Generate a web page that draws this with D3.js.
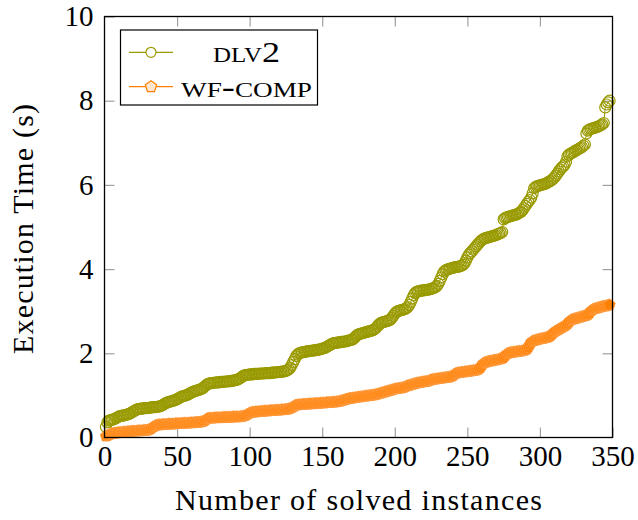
<!DOCTYPE html>
<html><head><meta charset="utf-8">
<script src="https://cdn.jsdelivr.net/npm/d3@7"></script>
<style>body{margin:0;background:#fff}svg{display:block}
svg text{font-family:"Liberation Serif","DejaVu Serif","Times New Roman",serif;}</style>
</head><body>
<svg id="c" width="638" height="520"></svg>
<script>
const xTicks=[0,50,100,150,200,250,300,350];
const yTicks=[0,2,4,6,8,10];
const seriesNames=["dlv2","wf-comp"];
const xTitle="Number of solved instances";
const yTitle="Execution Time (s)";
const dlv2=[
0.25,0.36,0.40,0.41,0.42,0.43,0.44,0.46,0.48,0.50,
0.51,0.52,0.52,0.53,0.54,0.55,0.56,0.58,0.60,0.62,
0.64,0.66,0.67,0.68,0.68,0.69,0.69,0.70,0.70,0.70,
0.71,0.71,0.72,0.72,0.72,0.73,0.73,0.74,0.75,0.77,
0.79,0.81,0.83,0.84,0.85,0.86,0.87,0.88,0.89,0.91,
0.93,0.95,0.97,0.98,0.99,1.00,1.01,1.03,1.05,1.07,
1.08,1.10,1.11,1.12,1.13,1.14,1.16,1.18,1.21,1.24,
1.27,1.28,1.29,1.29,1.30,1.30,1.31,1.31,1.31,1.32,
1.32,1.32,1.33,1.33,1.33,1.34,1.34,1.35,1.35,1.36,
1.37,1.38,1.40,1.42,1.45,1.47,1.48,1.49,1.49,1.50,
1.50,1.50,1.51,1.51,1.51,1.51,1.52,1.52,1.52,1.52,
1.53,1.53,1.53,1.53,1.54,1.54,1.54,1.55,1.55,1.55,
1.56,1.56,1.57,1.57,1.58,1.60,1.62,1.66,1.72,1.79,
1.86,1.93,1.97,2.00,2.01,2.02,2.03,2.03,2.04,2.05,
2.05,2.06,2.06,2.07,2.07,2.08,2.08,2.09,2.10,2.11,
2.12,2.13,2.15,2.17,2.19,2.21,2.23,2.24,2.25,2.25,
2.26,2.26,2.27,2.27,2.28,2.28,2.29,2.30,2.31,2.32,
2.33,2.36,2.40,2.43,2.45,2.46,2.47,2.48,2.49,2.50,
2.51,2.52,2.53,2.54,2.55,2.57,2.60,2.64,2.68,2.71,
2.73,2.74,2.75,2.76,2.77,2.78,2.80,2.84,2.89,2.94,
2.98,3.00,3.01,3.02,3.03,3.04,3.05,3.07,3.10,3.15,
3.22,3.30,3.38,3.43,3.46,3.47,3.48,3.49,3.49,3.50,
3.50,3.51,3.51,3.52,3.53,3.54,3.55,3.57,3.60,3.65,
3.72,3.80,3.88,3.94,3.97,3.99,4.00,4.01,4.02,4.03,
4.04,4.05,4.05,4.06,4.07,4.08,4.10,4.14,4.20,4.28,
4.34,4.38,4.42,4.46,4.50,4.54,4.58,4.62,4.66,4.69,
4.71,4.73,4.74,4.75,4.76,4.77,4.78,4.79,4.80,4.81,
4.83,4.84,4.86,4.88,5.18,5.21,5.23,5.24,5.25,5.26,
5.27,5.28,5.29,5.30,5.32,5.34,5.36,5.40,5.45,5.50,
5.55,5.60,5.64,5.70,5.80,5.92,5.95,5.97,5.98,5.99,
6.00,6.01,6.02,6.03,6.05,6.07,6.09,6.11,6.14,6.18,
6.22,6.27,6.32,6.37,6.41,6.44,6.48,6.55,6.68,6.72,
6.74,6.76,6.78,6.80,6.82,6.84,6.86,6.88,6.90,6.93,
6.96,7.22,7.29,7.31,7.33,7.34,7.35,7.36,7.37,7.38,
7.40,7.42,7.44,7.47,7.84,7.91,7.96,8.00];
const wfcomp=[
0.03,0.05,0.06,0.08,0.09,0.10,0.10,0.11,0.11,0.12,
0.12,0.12,0.13,0.13,0.13,0.14,0.14,0.14,0.15,0.15,
0.15,0.15,0.16,0.16,0.16,0.16,0.17,0.17,0.17,0.18,
0.19,0.21,0.24,0.26,0.28,0.29,0.30,0.30,0.30,0.31,
0.31,0.31,0.31,0.32,0.32,0.32,0.32,0.32,0.33,0.33,
0.33,0.33,0.33,0.34,0.34,0.34,0.34,0.34,0.35,0.35,
0.35,0.35,0.36,0.36,0.36,0.37,0.37,0.38,0.40,0.43,
0.45,0.46,0.46,0.46,0.46,0.47,0.47,0.47,0.47,0.47,
0.47,0.48,0.48,0.48,0.48,0.48,0.48,0.49,0.49,0.49,
0.49,0.49,0.49,0.50,0.50,0.51,0.52,0.54,0.56,0.58,
0.59,0.60,0.60,0.61,0.61,0.61,0.62,0.62,0.62,0.63,
0.63,0.63,0.63,0.64,0.64,0.64,0.64,0.65,0.65,0.65,
0.65,0.66,0.66,0.66,0.67,0.67,0.68,0.69,0.71,0.73,
0.75,0.77,0.77,0.78,0.78,0.78,0.79,0.79,0.79,0.79,
0.80,0.80,0.80,0.80,0.81,0.81,0.81,0.81,0.82,0.82,
0.82,0.82,0.83,0.83,0.83,0.83,0.84,0.84,0.84,0.85,
0.85,0.86,0.87,0.88,0.89,0.90,0.91,0.92,0.93,0.93,
0.94,0.94,0.95,0.95,0.96,0.96,0.97,0.97,0.98,0.98,
0.99,0.99,1.00,1.00,1.01,1.01,1.02,1.03,1.04,1.05,
1.06,1.07,1.08,1.09,1.10,1.11,1.12,1.13,1.14,1.15,
1.16,1.16,1.17,1.17,1.18,1.19,1.20,1.22,1.23,1.24,
1.25,1.26,1.27,1.28,1.29,1.30,1.30,1.31,1.32,1.32,
1.33,1.33,1.34,1.35,1.37,1.38,1.38,1.39,1.39,1.40,
1.40,1.41,1.41,1.42,1.42,1.43,1.43,1.44,1.45,1.47,
1.50,1.52,1.53,1.54,1.54,1.55,1.55,1.56,1.56,1.57,
1.57,1.58,1.58,1.59,1.59,1.60,1.61,1.63,1.66,1.71,
1.76,1.78,1.79,1.80,1.81,1.82,1.82,1.83,1.84,1.84,
1.85,1.86,1.87,1.88,1.90,1.94,1.98,2.00,2.01,2.02,
2.02,2.03,2.03,2.04,2.04,2.05,2.05,2.06,2.07,2.08,
2.10,2.14,2.20,2.26,2.29,2.30,2.31,2.32,2.33,2.34,
2.35,2.35,2.36,2.37,2.38,2.39,2.41,2.44,2.48,2.51,
2.53,2.55,2.57,2.59,2.61,2.63,2.65,2.67,2.70,2.74,
2.78,2.80,2.81,2.82,2.83,2.84,2.85,2.86,2.87,2.88,
2.89,2.90,2.92,2.95,3.00,3.03,3.05,3.06,3.07,3.08,
3.09,3.10,3.11,3.12,3.12,3.13,3.14,3.15];

const OLIVE='#999900', ORANGE='#ff8000';
const svg=d3.select('#c');
const x=d3.scaleLinear().domain([0,350]).range([104.5,612.5]);
const y=d3.scaleLinear().domain([0,10]).range([437.5,16.5]);

function pentagon(r){
  const pts=d3.range(5).map(k=>{const a=-Math.PI/2+k*2*Math.PI/5;return [r*Math.cos(a),r*Math.sin(a)];});
  return 'M'+pts.map(p=>p[0].toFixed(2)+','+p[1].toFixed(2)).join('L')+'Z';
}

function styleAxis(g,labels){
  g.select('.domain').attr('stroke','none');
  g.selectAll('.tick line').attr('stroke','#a0a0a0').attr('stroke-width',1.2);
  if(!labels) g.selectAll('.tick text').remove();
  else g.selectAll('.tick text').attr('font-family',null).attr('font-size',29).attr('fill','#000');
  g.attr('font-family',null);
}
svg.append('g').attr('transform','translate(0,437.5)')
  .call(d3.axisBottom(x).tickValues(xTicks).tickSize(-10).tickPadding(8).tickFormat(d3.format('d')))
  .call(g=>styleAxis(g,true));
svg.append('g').attr('transform','translate(0,16.5)')
  .call(d3.axisTop(x).tickValues(xTicks.slice(1,-1)).tickSize(-10))
  .call(g=>styleAxis(g,false));
svg.append('g').attr('transform','translate(104.5,0)')
  .call(d3.axisLeft(y).tickValues(yTicks).tickSize(-10).tickPadding(11).tickFormat(d3.format('d')))
  .call(g=>styleAxis(g,true));
svg.append('g').attr('transform','translate(612.5,0)')
  .call(d3.axisRight(y).tickValues(yTicks.slice(1,-1)).tickSize(-10))
  .call(g=>styleAxis(g,false));

const line=d3.line().x((d,i)=>x(i+1)).y(d=>y(d));
function drawSeries(vals,color,kind){
  const g=svg.append('g');
  g.append('path').attr('d',line(vals)).attr('fill','none').attr('stroke',color).attr('stroke-width',1);
  if(kind==='circle'){
    g.selectAll('circle').data(vals).join('circle')
      .attr('cx',(d,i)=>x(i+1)).attr('cy',d=>y(d)).attr('r',5.5)
      .attr('fill','none').attr('stroke',color).attr('stroke-width',1.2);
  } else {
    g.selectAll('path.m').data(vals).join('path').attr('class','m')
      .attr('d',pentagon(6)).attr('transform',(d,i)=>`translate(${x(i+1)},${y(d)})`)
      .attr('fill',color).attr('stroke','#ff9a40').attr('stroke-width',0.8);
  }
}
drawSeries(dlv2,OLIVE,'circle');
drawSeries(wfcomp,ORANGE,'pent');

svg.append('rect').attr('x',104.5).attr('y',16.5).attr('width',508).attr('height',421)
  .attr('fill','none').attr('stroke','#000').attr('stroke-width',1.3);

svg.append('text').attr('x',358.5).attr('y',510).attr('text-anchor','middle')
  .attr('font-size',30).attr('textLength',367).attr('lengthAdjust','spacing').text(xTitle);
svg.append('text').attr('transform','translate(33,229) rotate(-90)').attr('text-anchor','middle')
  .attr('font-size',30).attr('textLength',250).attr('lengthAdjust','spacing').text(yTitle);

const lg=svg.append('g');
lg.append('rect').attr('x',120.5).attr('y',30).attr('width',197).attr('height',75)
  .attr('fill','#fff').attr('stroke','#000').attr('stroke-width',1.2);
const rows=[{name:seriesNames[0],color:OLIVE,kind:'circle',cy:52.3,w:67},{name:seriesNames[1],color:ORANGE,kind:'pent',cy:86.7,w:131}];
rows.forEach(r=>{
  lg.append('line').attr('x1',129).attr('x2',173).attr('y1',r.cy).attr('y2',r.cy).attr('stroke',r.color).attr('stroke-width',1.2);
  if(r.kind==='circle') lg.append('circle').attr('cx',151).attr('cy',r.cy).attr('r',5).attr('fill','#fff').attr('stroke',r.color).attr('stroke-width',1.2);
  else lg.append('path').attr('d',pentagon(6)).attr('transform',`translate(151,${r.cy})`).attr('fill','#ffe6cc').attr('stroke',r.color).attr('stroke-width',1.2);
  lg.append('text').attr('x',246.5).attr('y',r.cy+10).attr('text-anchor','middle')
    .attr('font-size',29).style('font-variant','small-caps')
    .attr('textLength',r.w).attr('lengthAdjust','spacingAndGlyphs').text(r.name);
});
</script>
</body></html>
